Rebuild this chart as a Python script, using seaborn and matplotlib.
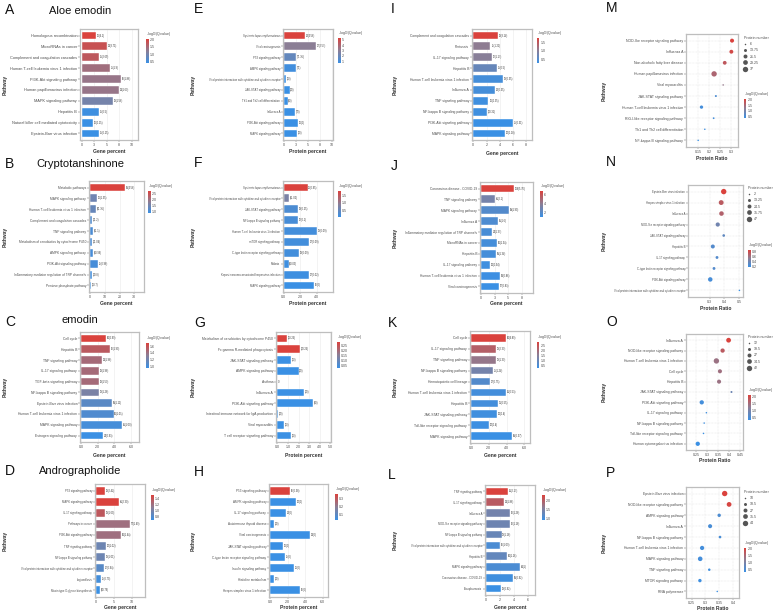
import numpy as np
import pandas as pd
import matplotlib
matplotlib.use("Agg")
import matplotlib.pyplot as plt
import seaborn as sns
from matplotlib.colors import LinearSegmentedColormap, Normalize
from matplotlib.cm import ScalarMappable
from matplotlib.lines import Line2D

sns.set_theme(style="white")
plt.rcParams["font.family"] = ["Liberation Sans", "DejaVu Sans"]

# ------------------------------------------------------------------ data
A_pathways = ["Homologous recombination", "MicroRNAs in cancer", "Complement and coagulation cascades",
              "Human T-cell leukemia virus 1 infection", "PI3K-Akt signaling pathway",
              "Human papillomavirus infection", "MAPK signaling pathway", "Hepatitis B",
              "Natural killer cell mediated cytotoxicity", "Epstein-Barr virus infection"]
A_percent = [2.8, 5.1, 3.4, 5.6, 7.9, 7.4, 6.3, 3.4, 2.2, 3.4]
A_labels = ["10(4.1)", "33(3.71)", "15(2.65)", "25(1.9)", "36(1.88)", "33(1.63)", "28(1.58)",
            "15(0.5)", "10(0.15)", "15(0.15)"]
A_logq = [2.05, 1.85, 1.75, 1.45, 1.35, 1.35, 1.0, 0.45, 0.4, 0.4]

B_pathways = ["Metabolic pathways", "MAPK signaling pathway", "Human T-cell leukemia virus 1 infection",
              "Complement and coagulation cascades", "TNF signaling pathway",
              "Metabolism of xenobiotics by cytochrome P450", "AMPK signaling pathway",
              "PI3K-Akt signaling pathway", "Inflammatory mediator regulation of TRP channels",
              "Pentose phosphate pathway"]
B_percent = [23.5, 4.8, 3.9, 1.4, 2.0, 1.4, 2.0, 5.3, 1.4, 0.5]
B_labels = ["59(4.58)", "10(1.35)", "8(1.35)", "3(1.2)", "4(1.1)", "3(1.04)", "4(0.99)", "11(0.96)",
            "3(0.8)", "1(0.7)"]
B_logq = [2.7, 1.45, 1.35, 1.1, 1.05, 1.05, 1.0, 1.0, 0.95, 0.85]

C_pathways = ["Cell cycle", "Hepatitis B", "TNF signaling pathway", "IL-17 signaling pathway",
              "TGF-beta signaling pathway", "NF-kappa B signaling pathway", "Epstein-Barr virus infection",
              "Human T-cell leukemia virus 1 infection", "MAPK signaling pathway",
              "Estrogen signaling pathway"]
C_percent = [3.0, 3.5, 2.5, 2.2, 2.2, 2.2, 3.7, 3.9, 4.9, 2.6]
C_labels = ["40(2.99)", "46(1.99)", "33(1.96)", "28(1.96)", "28(1.53)", "29(1.26)", "49(1.11)",
            "50(1.01)", "65(1.00)", "34(0.93)"]
C_logq = [1.7, 1.55, 1.45, 1.45, 1.45, 1.25, 1.1, 1.05, 1.0, 0.95]

D_pathways = ["P53 signaling pathway", "MAPK signaling pathway", "IL-17 signaling pathway",
              "Pathways in cancer", "PI3K-Akt signaling pathway", "TNF signaling pathway",
              "NF-kappa B signaling pathway",
              "Viral protein interaction with cytokine and cytokine receptor", "Legionellosis",
              "Mucin type O-glycan biosynthesis"]
D_percent = [2.5, 6.3, 2.6, 9.4, 6.9, 2.8, 2.6, 2.3, 1.4, 1.0]
D_labels = ["18(2.42)", "45(2.30)", "19(1.69)", "70(1.49)", "50(1.44)", "20(1.02)", "19(1.01)",
            "17(0.94)", "11(0.79)", "8(0.79)"]
D_logq = [1.5, 1.5, 1.35, 1.2, 1.2, 0.95, 0.95, 0.85, 0.75, 0.7]

E_pathways = ["Systemic lupus erythematosus", "Viral carcinogenesis", "P53 signaling pathway",
              "AMPK signaling pathway", "Viral protein interaction with cytokine and cytokine receptor",
              "JAK-STAT signaling pathway", "Th1 and Th2 cell differentiation", "Influenza A",
              "PI3K-Akt signaling pathway", "MAPK signaling pathway"]
E_percent = [4.3, 6.8, 2.45, 2.45, 0.35, 1.1, 0.7, 2.2, 2.9, 2.7]
E_labels = ["14(4.58)", "22(2.57)", "7(1.35)", "7(1)", "1(0)", "3(0)", "4(0)", "7(0)", "10(0)", "9(0)"]
E_logq = [5.3, 3.0, 1.85, 0.9, 0.7, 0.7, 0.7, 0.7, 0.7, 0.7]

F_pathways = ["Systemic lupus erythematosus",
              "Viral protein interaction with cytokine and cytokine receptor",
              "JAK-STAT signaling pathway", "NF-kappa B signaling pathway",
              "Human T-cell leukemia virus 1 infection", "mTOR signaling pathway",
              "C-type lectin receptor signaling pathway", "Malaria",
              "Kaposi sarcoma-associated herpesvirus infection", "MAPK signaling pathway"]
F_percent = [2.9, 0.7, 1.8, 1.7, 4.1, 3.1, 1.9, 0.6, 3.1, 3.7]
F_labels = ["21(0.95)", "5(1.02)", "13(0.25)", "12(0.1)", "29(0.09)", "22(0.09)", "13(0.09)",
            "4(0.03)", "22(0.02)", "26(0)"]
F_logq = [1.8, 0.75, 0.25, 0.2, 0.15, 0.15, 0.15, 0.1, 0.1, 0.05]

G_pathways = ["Metabolism of xenobiotics by cytochrome P450", "Fc gamma R-mediated phagocytosis",
              "JAK-STAT signaling pathway", "AMPK signaling pathway", "Asthma", "Influenza A",
              "PI3K-Akt signaling pathway", "Intestinal immune network for IgA production",
              "Viral myocarditis", "T cell receptor signaling pathway"]
G_percent = [0.9, 2.1, 1.3, 2.0, 0.0, 2.5, 3.4, 0.1, 0.65, 1.3]
G_labels = ["1(0.26)", "2(0.26)", "1(0)", "2(0)", "0", "2(0)", "4(0)", "2(0)", "1(0)", "1(0)"]
G_logq = [0.28, 0.28, 0.03, 0.03, 0.03, 0.03, 0.03, 0.03, 0.03, 0.03]

H_pathways = ["P53 signaling pathway", "AMPK signaling pathway", "IL-17 signaling pathway",
              "Autoimmune thyroid disease", "Viral carcinogenesis", "JAK-STAT signaling pathway",
              "C-type lectin receptor signaling pathway", "Insulin signaling pathway",
              "Histidine metabolism", "Herpes simplex virus 1 infection"]
H_percent = [2.3, 2.9, 1.8, 0.4, 4.5, 1.4, 1.7, 2.7, 0.4, 3.4]
H_labels = ["16(0.38)", "20(0)", "14(0)", "3(0)", "33(0)", "10(0)", "11(0)", "21(0)", "3(0)", "26(0)"]
H_logq = [0.36, 0.03, 0.03, 0.03, 0.03, 0.03, 0.03, 0.03, 0.03, 0.03]

I_pathways = ["Complement and coagulation cascades", "Pertussis", "IL-17 signaling pathway",
              "Hepatitis B", "Human T-cell leukemia virus 1 infection", "Influenza A",
              "TNF signaling pathway", "NF-kappa B signaling pathway", "PI3K-Akt signaling pathway",
              "MAPK signaling pathway"]
I_percent = [3.8, 2.6, 2.85, 3.55, 4.5, 3.3, 2.3, 2.1, 6.0, 4.85]
I_labels = ["18(3.14)", "11(1.21)", "12(1.17)", "15(0.5)", "19(0.35)", "14(0.35)", "10(0.35)",
            "9(0.31)", "25(0.31)", "20(0.18)"]
I_logq = [1.75, 1.05, 1.0, 0.7, 0.4, 0.4, 0.35, 0.35, 0.3, 0.3]

J_pathways = ["Coronavirus disease - COVID-19", "TNF signaling pathway", "MAPK signaling pathway",
              "Influenza A", "Inflammatory mediator regulation of TRP channels", "MicroRNAs in cancer",
              "Hepatitis B", "IL-17 signaling pathway", "Human T-cell leukemia virus 1 infection",
              "Viral carcinogenesis"]
J_percent = [6.1, 2.6, 5.1, 3.1, 2.0, 2.9, 2.8, 1.7, 3.6, 3.3]
J_labels = ["106(5.76)", "45(2.1)", "89(1.99)", "55(1.6)", "34(1.37)", "50(1.34)", "49(1.34)",
            "30(0.94)", "63(0.86)", "57(0.83)"]
J_logq = [6.8, 3.2, 2.0, 1.8, 1.6, 1.5, 1.5, 1.3, 1.2, 1.1]

K_pathways = ["Cell cycle", "IL-17 signaling pathway", "TNF signaling pathway",
              "NF-kappa B signaling pathway", "Hematopoietic cell lineage",
              "Human T-cell leukemia virus 1 infection", "Hepatitis B", "JAK-STAT signaling pathway",
              "Toll-like receptor signaling pathway", "MAPK signaling pathway"]
K_percent = [3.9, 2.85, 2.85, 2.5, 2.1, 3.9, 3.0, 2.95, 2.0, 4.6]
K_labels = ["40(4.89)", "29(2.33)", "29(1.33)", "25(1.24)", "22(0.75)", "41(0.53)", "31(0.55)",
            "30(0.4)", "20(0.4)", "48(0.37)"]
K_logq = [2.8, 2.2, 1.7, 1.2, 0.7, 0.45, 0.45, 0.4, 0.35, 0.3]

L_pathways = ["TNF signaling pathway", "IL-17 signaling pathway", "Influenza A",
              "NOD-like receptor signaling pathway", "NF-kappa B signaling pathway",
              "Viral protein interaction with cytokine and cytokine receptor", "Hepatitis B",
              "MAPK signaling pathway", "Coronavirus disease - COVID-19", "Toxoplasmosis"]
L_percent = [3.1, 2.5, 3.4, 3.4, 2.2, 2.0, 3.0, 4.9, 3.8, 2.1]
L_labels = ["41(2.17)", "33(1.88)", "46(1.26)", "46(1.16)", "29(1.16)", "26(1.09)", "40(1.16)",
            "64(1)", "49(0.92)", "28(0.92)"]
L_logq = [2.3, 2.0, 1.4, 1.35, 1.3, 1.05, 1.25, 1.05, 0.95, 0.9]

M_pathways = ["NOD-like receptor signaling pathway", "Influenza A", "Non-alcoholic fatty liver disease",
              "Human papillomavirus infection", "Viral myocarditis", "JAK-STAT signaling pathway",
              "Human T-cell leukemia virus 1 infection", "RIG-I-like receptor signaling pathway",
              "Th1 and Th2 cell differentiation", "NF-kappa B signaling pathway"]
M_ratio = [0.303, 0.300, 0.270, 0.222, 0.263, 0.230, 0.165, 0.220, 0.180, 0.150]
M_count = [22, 21, 20, 37, 6, 8, 16, 7, 6, 6]
M_logq = [2.05, 1.95, 1.75, 1.55, 1.3, 0.55, 0.45, 0.45, 0.4, 0.35]
M_size_breaks = [6, 13.75, 21.5, 29.25, 37]

N_pathways = ["Epstein-Barr virus infection", "Herpes simplex virus 1 infection", "Influenza A",
              "NOD-like receptor signaling pathway", "JAK-STAT signaling pathway", "Hepatitis B",
              "IL-17 signaling pathway", "C-type lectin receptor signaling pathway",
              "PI3K-Akt signaling pathway",
              "Viral protein interaction with cytokine and cytokine receptor"]
N_ratio = [0.395, 0.378, 0.380, 0.355, 0.395, 0.322, 0.350, 0.330, 0.305, 0.500]
N_count = [47, 38, 33, 28, 10, 25, 12, 12, 32, 2]
N_logq = [0.85, 0.72, 0.68, 0.42, 0.35, 0.3, 0.3, 0.3, 0.25, 0.2]
N_size_breaks = [2, 13.25, 24.5, 35.75, 47]

O_pathways = ["Influenza A", "NOD-like receptor signaling pathway",
              "Human T-cell leukemia virus 1 infection", "Cell cycle", "Hepatitis B",
              "JAK-STAT signaling pathway", "PI3K-Akt signaling pathway", "IL-17 signaling pathway",
              "NF-kappa B signaling pathway", "Toll-like receptor signaling pathway",
              "Human cytomegalovirus infection"]
O_ratio = [0.397, 0.370, 0.342, 0.358, 0.354, 0.410, 0.276, 0.297, 0.287, 0.284, 0.258]
O_count = [35, 30, 42, 28, 28, 14, 30, 12, 12, 12, 30]
O_logq = [2.1, 1.75, 1.4, 1.45, 1.4, 0.9, 0.45, 0.4, 0.4, 0.35, 0.35]
O_size_breaks = [12, 19.5, 27, 34.5, 42]

P_pathways = ["Epstein-Barr virus infection", "NOD-like receptor signaling pathway",
              "AMPK signaling pathway", "Influenza A", "NF-kappa B signaling pathway",
              "Human T-cell leukemia virus 1 infection", "MAPK signaling pathway",
              "TNF signaling pathway", "MTOR signaling pathway", "RNA polymerase"]
P_ratio = [0.370, 0.386, 0.350, 0.317, 0.353, 0.288, 0.281, 0.314, 0.280, 0.343]
P_count = [44, 36, 22, 28, 16, 30, 34, 15, 22, 10]
P_logq = [2.05, 2.0, 0.55, 0.5, 0.5, 0.45, 0.45, 0.4, 0.4, 0.35]
P_size_breaks = [10, 18.5, 27, 35.5, 44]

# ------------------------------------------------------------------ styling
W, H = 775, 613
fig = plt.figure(figsize=(7.75, 6.13), dpi=100)
fig.patch.set_facecolor("white")
cmap = LinearSegmentedColormap.from_list("q", ["#3A90E4", "#8B7E95", "#DA423D"])
TXT = "#4D4D4D"
FRAME = "#BEBEBE"
TS = 2.6


def rect(x0, y0, x1, y1):
    return [x0 / W, 1 - y1 / H, (x1 - x0) / W, (y1 - y0) / H]


def style_axes(ax, ysize):
    for s in ax.spines.values():
        s.set_color(FRAME)
        s.set_linewidth(0.9)
    ax.tick_params(axis="both", labelsize=TS, length=1.2, width=0.3, pad=0.8,
                   colors=TXT, bottom=True, left=True)
    ax.tick_params(axis="y", labelsize=ysize)
    ax.set_xlabel("")
    ax.set_ylabel("")


def colorbar(norm, cb_px, cticks):
    x0, y0, x1, y1 = cb_px
    fig.text(x0 / W, 1 - (y0 - 5) / H, r"-log$_{10}$(Qvalue)", fontsize=TS, color=TXT,
             ha="left", va="center")
    cax = fig.add_axes(rect(x0, y0, x1, y1))
    cb = fig.colorbar(ScalarMappable(norm=norm, cmap=cmap), cax=cax)
    cb.outline.set_visible(False)
    cb.set_ticks(cticks)
    cax.tick_params(labelsize=TS, length=0, pad=1, colors=TXT)


def bar_panel(names, vals, labels, logq, ax_px, xlim, xticks, xtl, cb_px, cticks, xlabel,
              xlabel_y, ylab_x, ysize):
    ax = fig.add_axes(rect(*ax_px))
    norm = Normalize(min(logq), max(logq))
    colors = [cmap(norm(q)) for q in logq]
    df = pd.DataFrame({"Pathway": names, "pct": vals})
    sns.barplot(data=df, x="pct", y="Pathway", hue="Pathway", palette=colors, legend=False,
                ax=ax, width=0.72, saturation=1, orient="h", edgecolor="white", linewidth=0.3)
    off = (xlim[1] - xlim[0]) * 0.015
    for i, (v, l) in enumerate(zip(vals, labels)):
        ax.text(v + off, i, l, fontsize=1.8, va="center", ha="left", color="#333333")
    ax.set_xlim(*xlim)
    ax.set_xticks(xticks)
    ax.set_xticklabels(xtl)
    n = len(names)
    ax.set_ylim(n - 0.4, -0.6)
    ax.grid(axis="x", color="#EBEBEB", linewidth=0.4)
    ax.set_axisbelow(True)
    style_axes(ax, ysize)
    cx = (ax_px[0] + ax_px[2]) / 2
    fig.text(cx / W, 1 - xlabel_y / H, xlabel, fontsize=3.6, fontweight="bold", color="#333333",
             ha="center", va="center")
    cy = (ax_px[1] + ax_px[3]) / 2
    fig.text(ylab_x / W, 1 - cy / H, "Pathway", fontsize=3.6, fontweight="bold", color="#333333",
             ha="center", va="center", rotation=90)
    colorbar(norm, cb_px, cticks)
    return ax


def dot_panel(names, ratio, count, logq, size_breaks, ax_px, xlim, xticks, xtl, leg_px, cb_px,
              cticks, xlabel_y, ylab_x, ysize):
    ax = fig.add_axes(rect(*ax_px))
    norm = Normalize(min(logq), max(logq))
    smin, smax = 1.2, 15.0
    cmin, cmax = size_breaks[0], size_breaks[-1]
    df = pd.DataFrame({"Pathway": names, "ratio": ratio, "count": count, "q": logq})
    sns.scatterplot(data=df, x="ratio", y="Pathway", size="count", sizes=(smin, smax),
                    size_norm=(cmin, cmax), hue="q", palette=cmap, hue_norm=norm, legend=False,
                    ax=ax, edgecolor="none", linewidth=0, zorder=3)
    n = len(names)
    ax.set_ylim(n - 0.4, -0.6)
    ax.set_xlim(*xlim)
    ax.set_xticks(xticks)
    ax.set_xticklabels(xtl)
    ax.grid(True, color="#DDDDDD", linewidth=0.35, linestyle=(0, (1.5, 1.5)))
    ax.set_axisbelow(True)
    style_axes(ax, ysize)
    cx = (ax_px[0] + ax_px[2]) / 2
    fig.text(cx / W, 1 - xlabel_y / H, "Protein Ratio", fontsize=3.6, fontweight="bold",
             color="#333333", ha="center", va="center")
    cy = (ax_px[1] + ax_px[3]) / 2
    fig.text(ylab_x / W, 1 - cy / H, "Pathway", fontsize=3.6, fontweight="bold", color="#333333",
             ha="center", va="center", rotation=90)
    handles = []
    for v in size_breaks:
        area = smin + (v - cmin) / (cmax - cmin) * (smax - smin)
        handles.append(Line2D([], [], marker="o", linestyle="", markersize=np.sqrt(area),
                              color="#555555", markeredgewidth=0))
    labs = [f"{v:g}" for v in size_breaks]
    leg = fig.legend(handles, labs, loc="upper left",
                     bbox_to_anchor=(leg_px[0] / W, 1 - leg_px[1] / H), frameon=False,
                     fontsize=TS, title="Protein number", title_fontsize=TS, borderpad=0,
                     borderaxespad=0, handlelength=0.8, handletextpad=0.8, labelspacing=0.6)
    leg._legend_box.align = "left"
    for t in leg.get_texts():
        t.set_color(TXT)
    leg.get_title().set_color(TXT)
    colorbar(norm, cb_px, cticks)
    return ax


# ------------------------------------------------------------------ column 1
bar_panel(A_pathways, A_percent, A_labels, A_logq, (80, 29, 138, 140), (-0.3, 11.2),
          [0, 2.5, 5, 7.5, 10], ["0", "3", "5", "8", "10"], (146, 39, 148.5, 63),
          [0.5, 1, 1.5, 2], "Gene percent", 152, 5, 2.8)
bar_panel(B_pathways, B_percent, B_labels, B_logq, (89, 181, 144, 292), (-0.9, 36.6),
          [0, 10, 20, 30], ["0", "10", "20", "30"], (148, 191, 150.5, 213),
          [1, 1.5, 2, 2.5], "Gene percent", 304, 5, 2.3)
bar_panel(C_pathways, C_percent, C_labels, C_logq, (80, 332, 139, 442), (-0.12, 6.96),
          [0, 2, 4, 6], ["0.0", "2.0", "4.0", "6.0"], (146, 343, 148.5, 368),
          [1, 1.2, 1.4, 1.6], "Gene percent", 455, 5, 2.45)
bar_panel(D_pathways, D_percent, D_labels, D_logq, (95, 484, 145, 597), (-0.3, 13.6),
          [0, 5, 10], ["0", "5", "10"], (151, 495, 153.5, 520),
          [0.8, 1, 1.2, 1.4], "Gene percent", 608, 5, 1.95)

# ------------------------------------------------------------------ column 2
bar_panel(E_pathways, E_percent, E_labels, E_logq, (283, 29, 333, 140), (-0.28, 10.3),
          [0, 2.5, 5, 7.5, 10], ["0", "3", "5", "8", "10"], (338, 38, 340.5, 63),
          [1, 2, 3, 4, 5], "Protein percent", 152, 193, 1.95)
bar_panel(F_pathways, F_percent, F_labels, F_logq, (283, 181, 333, 292), (-0.08, 6.0),
          [0, 2, 4], ["0.0", "2.0", "4.0"], (338, 191, 340.5, 217),
          [0.5, 1, 1.5], "Protein percent", 303, 193, 1.95)
bar_panel(G_pathways, G_percent, G_labels, G_logq, (276, 332, 331, 442), (-0.125, 5.06),
          [0, 1, 2, 3, 4, 5], ["0.0", "1.0", "2.0", "3.0", "4.0", "5.0"], (337, 342, 339.5, 368),
          [0.05, 0.1, 0.15, 0.2, 0.25], "Protein percent", 455, 193, 2.4)
bar_panel(H_pathways, H_percent, H_labels, H_logq, (269, 484, 328, 597), (-0.15, 6.6),
          [0, 2, 4, 6], ["0.0", "2.0", "4.0", "6.0"], (335, 494, 337.5, 520),
          [0.1, 0.2, 0.3], "Protein percent", 608, 193, 2.2)

# ------------------------------------------------------------------ column 3
bar_panel(I_pathways, I_percent, I_labels, I_logq, (472, 29, 532, 140), (-0.2, 8.9),
          [0, 2, 4, 6, 8], ["0", "2", "4", "6", "8"], (537, 38, 539.5, 63),
          [0.5, 1, 1.5], "Gene percent", 153, 395, 2.45)
bar_panel(J_pathways, J_percent, J_labels, J_logq, (480, 182, 533, 293), (-0.18, 9.6),
          [0, 2.5, 5, 7.5], ["0", "3", "5", "8"], (540, 191, 542.5, 217),
          [2, 4, 6], "Gene percent", 304, 395, 2.3)
bar_panel(K_pathways, K_percent, K_labels, K_logq, (470, 331, 530, 443), (-0.11, 6.63),
          [0, 2, 4, 6], ["0.0", "2.0", "4.0", "6.0"], (537, 342, 539.5, 368),
          [0.5, 1, 1.5, 2, 2.5], "Gene percent", 456, 395, 2.4)
bar_panel(L_pathways, L_percent, L_labels, L_logq, (485, 485, 535, 595), (-0.19, 7.0),
          [0, 2, 4, 6], ["0", "2", "4", "6"], (542, 495, 544.5, 520),
          [1, 1.5, 2], "Gene percent", 608, 395, 2.0)

# ------------------------------------------------------------------ column 4
dot_panel(M_pathways, M_ratio, M_count, M_logq, M_size_breaks, (686, 34, 738, 147),
          (0.095, 0.33), [0.15, 0.2, 0.25, 0.3], ["0.15", "0.2", "0.25", "0.3"],
          (744, 36), (744, 99, 746.5, 118), [0.5, 1, 1.5, 2], 158, 604, 2.5)
dot_panel(N_pathways, N_ratio, N_count, N_logq, N_size_breaks, (688, 185, 743, 297),
          (0.156, 0.524), [0.3, 0.4, 0.5], ["0.3", "0.4", "0.5"],
          (748, 186), (748, 250, 750.5, 267), [0.2, 0.4, 0.6, 0.8], 308, 604, 2.0)
dot_panel(O_pathways, O_ratio, O_count, O_logq, O_size_breaks, (686, 334, 743, 450),
          (0.205, 0.462), [0.25, 0.3, 0.35, 0.4, 0.45], ["0.25", "0.3", "0.35", "0.4", "0.45"],
          (748, 335), (748, 395, 750.5, 420), [0.5, 1, 1.5, 2], 461, 604, 2.4)
dot_panel(P_pathways, P_ratio, P_count, P_logq, P_size_breaks, (686, 487, 739, 598),
          (0.2295, 0.422), [0.25, 0.3, 0.35, 0.4], ["0.25", "0.3", "0.35", "0.4"],
          (744, 490), (744, 548, 746.5, 572), [0.5, 1, 1.5, 2], 609, 604, 2.4)

# ------------------------------------------------------------------ letters and titles
letters = [("A", 5, 10), ("B", 5, 164), ("C", 5, 322), ("D", 5, 471),
           ("E", 194, 9), ("F", 194, 163), ("G", 194, 323), ("H", 194, 472),
           ("I", 391, 9), ("J", 391, 166), ("K", 388, 323), ("L", 388, 475),
           ("M", 606, 8), ("N", 606, 162), ("O", 606, 322), ("P", 606, 473)]
for t, x, y in letters:
    fig.text(x / W, 1 - y / H, t, fontsize=10, color="#111111", ha="left", va="center")

titles = [("Aloe emodin", 80, 11), ("Cryptotanshinone", 80, 164), ("emodin", 80, 320),
          ("Andrographolide", 80, 471)]
for t, x, y in titles:
    fig.text(x / W, 1 - y / H, t, fontsize=8, color="#111111", ha="center", va="center")

fig.savefig("out.png", dpi=100, facecolor="white")
